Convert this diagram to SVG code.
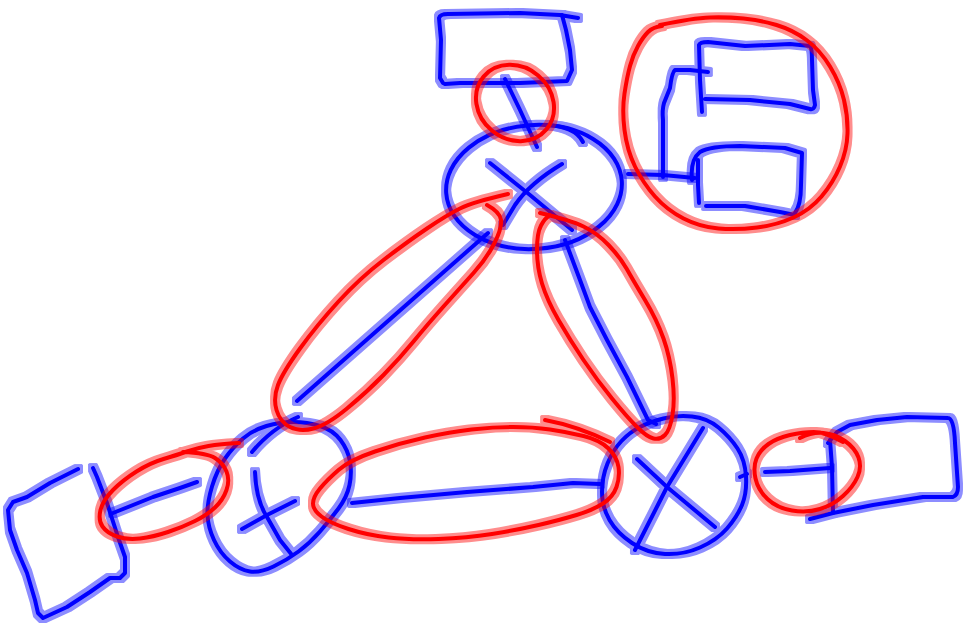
<svg xmlns="http://www.w3.org/2000/svg" width="963" height="629" viewBox="0 0 963 629">
<defs>
<filter id="halo" filterUnits="userSpaceOnUse" x="0" y="0" width="963" height="629">
<feMorphology in="SourceGraphic" operator="dilate" radius="2.5" result="d"/>
<feComponentTransfer in="d" result="h"><feFuncA type="linear" slope="0.45"/></feComponentTransfer>
<feMerge><feMergeNode in="h"/><feMergeNode in="SourceGraphic"/></feMerge>
</filter>
</defs>
<style>
.b{fill:none;stroke:#0000ff;stroke-width:4;stroke-linecap:round;stroke-linejoin:round}
.r{fill:none;stroke:#ff0000;stroke-width:4;stroke-linecap:round;stroke-linejoin:round}
g.s{filter:url(#halo)}
</style>
<rect width="963" height="629" fill="#ffffff"/>

<g id="box-top" class="s">
<path class="b" d="M443,83 L440,78 L441,40 L439,18 Q440,14 448,14 L520,13 L560,15 L578,18"/>
<path class="b" d="M562,15 L566,30 L570,50 L572,70 L567,81 L520,83 L460,83 L445,84"/>
</g>

<g id="node-top" class="s">
<ellipse class="b" cx="534" cy="187" rx="88" ry="62" transform="rotate(-4 534 187)"/>
<path class="b" d="M545,125 Q575,126 583,142"/>
<path class="b" d="M490,163 L530,195 L572,230"/>
<path class="b" d="M562,164 Q530,183 515,205 L503,225"/>
</g>

<g id="boxes-topright" class="s">
<path class="b" d="M702,112 L700,80 L699,45 Q700,42 708,42 L745,46 L790,44 L810,46 Q812,48 812,60 L813,90 L815,105 Q814,110 810,109 L790,104 L750,100 L705,99"/>
<path class="b" d="M708,72 L690,70 L675,70 Q672,72 670,88 L664,103 Q662,110 663,120 L663,177"/>
<path class="b" d="M699,203 L698,185 L698,160"/>
<path class="b" d="M692,180 Q690,160 700,152 Q710,146 740,146 L785,148 L802,153 L801,185 Q801,205 795,213"/>
<path class="b" d="M706,206 L745,206 L780,212 L795,215"/>
</g>

<g id="node-left" class="s">
<path class="b" d="M293.5,422 Q307,422 320,426 Q333,430 340.5,440 Q348,450 350,461.5 Q352,473 349.5,485 Q347,497 338.5,508.5 Q330,520 320,531.5 Q310,543 298.5,551.5 Q287,560 273.5,566.5 Q260,573 250,571.5 Q240,570 230,561.5 Q220,553 214,540 Q208,527 207.5,515 Q207,503 212,486.5 Q217,470 225,458.5 Q233,447 243,438.5 Q253,430 266.5,426 Q280,422 293.5,422 Z"/>
<path class="b" d="M252,452 Q272,428 298,417"/>
<path class="b" d="M255,472 Q256,500 267,517 L280,540 L292,555"/>
<path class="b" d="M242,529 L267,515 L295,501"/>
</g>

<g id="box-left" class="s">
<path class="b" d="M78,469 L50,483 L27,497 L13,502 L8,510 L10,530 L17,550 L27,573 L35,600 L38,613 L43,618 L67,607 L90,592 L110,578 L120,578 L125,573 L125,557 L118,537 L107,503 L97,477 L93,468"/>
</g>

<g id="node-right" class="s">
<path class="b" d="M640,427 Q650,422 663.5,418.5 Q677,415 692,416.5 Q707,418 718.5,427.5 Q730,437 737.5,448.5 Q745,460 746,476.5 Q747,493 742,505 Q737,517 727,528.5 Q717,540 700,547.5 Q683,555 665,554 Q647,553 632,543 Q617,533 609.5,520 Q602,507 602,492 Q602,477 607.5,463.5 Q613,450 621.5,441 Q630,432 640,427 Z"/>
<path class="b" d="M740,477 L747,474"/>
<path class="b" d="M703,428 L667,487 L635,550"/>
<path class="b" d="M637,459 L667,487 L715,527"/>
</g>

<g id="box-right" class="s">
<path class="b" d="M830,440 L832,467 L833,513"/>
<path class="b" d="M810,519 L833,513 L873,505 L923,497 L953,497 Q958,495 958,487 L955,443 Q954,418 948,418 L907,417 L877,420 L850,425 L837,432 L828,443"/>
</g>

<g id="connectors" class="s">
<path class="b" d="M505,79 L520,110 L537,147"/>
<path class="b" d="M488,233 L297,401"/>
<path class="b" d="M565,240 L580,280 L590,307 L607,340 L627,377 L648,420 L656,424"/>
<path class="b" d="M352,503 L400,498 L467,492 L533,487 L573,483 L600,484"/>
<path class="b" d="M197,482 L180,488 L153,497 L113,513"/>
<path class="b" d="M628,174 L663,175 L695,178"/>
<path class="b" d="M765,472 L790,471 L830,468"/>
</g>

<g id="highlights" class="s">
<ellipse class="r" cx="515" cy="103" rx="41" ry="36" transform="rotate(40 515 103)"/>
<path class="r" d="M660,25 Q693,18 710,17.5 Q727,17 743.5,18.5 Q760,20 776.5,25 Q793,30 806.5,40 Q820,50 830,66.5 Q840,83 844,100 Q848,117 847.5,133.5 Q847,150 840,166.5 Q833,183 821.5,196.5 Q810,210 793.5,217.5 Q777,225 757,227.5 Q737,230 718.5,228.5 Q700,227 683.5,218.5 Q667,210 655,196.5 Q643,183 635,166.5 Q627,150 624.5,130 Q622,110 624.5,93.5 Q627,77 630,66 Q633,55 638,46 Q643,37 648,32 Q653,27 662,26"/>
<path class="r" d="M508,194 Q473,202 460,208.5 Q447,215 427,228.5 Q407,242 383.5,260 Q360,278 338.5,301.5 Q317,325 300,348.5 Q283,372 278,385 Q273,398 276.5,410 Q280,422 290,427 Q300,432 313.5,428.5 Q327,425 347,408.5 Q367,392 383.5,375 Q400,358 413.5,341.5 Q427,325 443.5,306.5 Q460,288 473.5,273 Q487,258 494.5,243 Q502,228 501,220 Q500,212 487,205"/>
<path class="r" d="M540,213 Q570,220 583.5,226.5 Q597,233 608.5,245 Q620,257 626.5,268.5 Q633,280 645,300 Q657,320 663.5,338.5 Q670,357 672.5,378.5 Q675,400 672.5,415 Q670,430 665,435 Q660,440 653.5,438.5 Q647,437 637,427 Q627,417 612,398.5 Q597,380 583.5,360 Q570,340 558.5,320 Q547,300 542,283.5 Q537,267 537,250 Q537,233 541,225.5 Q545,218 550,215"/>
<path class="r" d="M313,503.5 Q313,497 320,488.5 Q327,480 338.5,470 Q350,460 375,451.5 Q400,443 425,437.5 Q450,432 471.5,429.5 Q493,427 513,427 Q533,427 550,429.5 Q567,432 583.5,436 Q600,440 608.5,448.5 Q617,457 618.5,467 Q620,477 616.5,487 Q613,497 603,503.5 Q593,510 576.5,515 Q560,520 538.5,525 Q517,530 492,534 Q467,538 438.5,539 Q410,540 388.5,537.5 Q367,535 348.5,529 Q330,523 321.5,516.5 Q313,510 313,503.5 Z"/>
<path class="r" d="M545,420 Q577,426 610,442"/>
<path class="r" d="M239,443 Q220,444 208.5,446 Q197,448 187,451.5 Q177,455 163.5,459 Q150,463 136.5,471.5 Q123,480 113,490 Q103,500 100.5,510 Q98,520 102.5,526.5 Q107,533 117,536.5 Q127,540 140,538.5 Q153,537 168,532 Q183,527 195,521 Q207,515 215,507.5 Q223,500 226.5,490 Q230,480 226.5,471.5 Q223,463 215,458 Q207,453 183,452"/>
<path class="r" d="M800,438 Q812,432 823.5,433 Q835,434 845,441 Q855,448 858.5,457.5 Q862,467 857.5,477 Q853,487 843,496 Q833,505 820,509 Q807,513 792,510.5 Q777,508 767.5,499 Q758,490 755.5,478.5 Q753,467 756.5,458.5 Q760,450 768.5,444 Q777,438 790,435 Q803,432 814,432 Q825,432 843,442"/>
</g>
</svg>
